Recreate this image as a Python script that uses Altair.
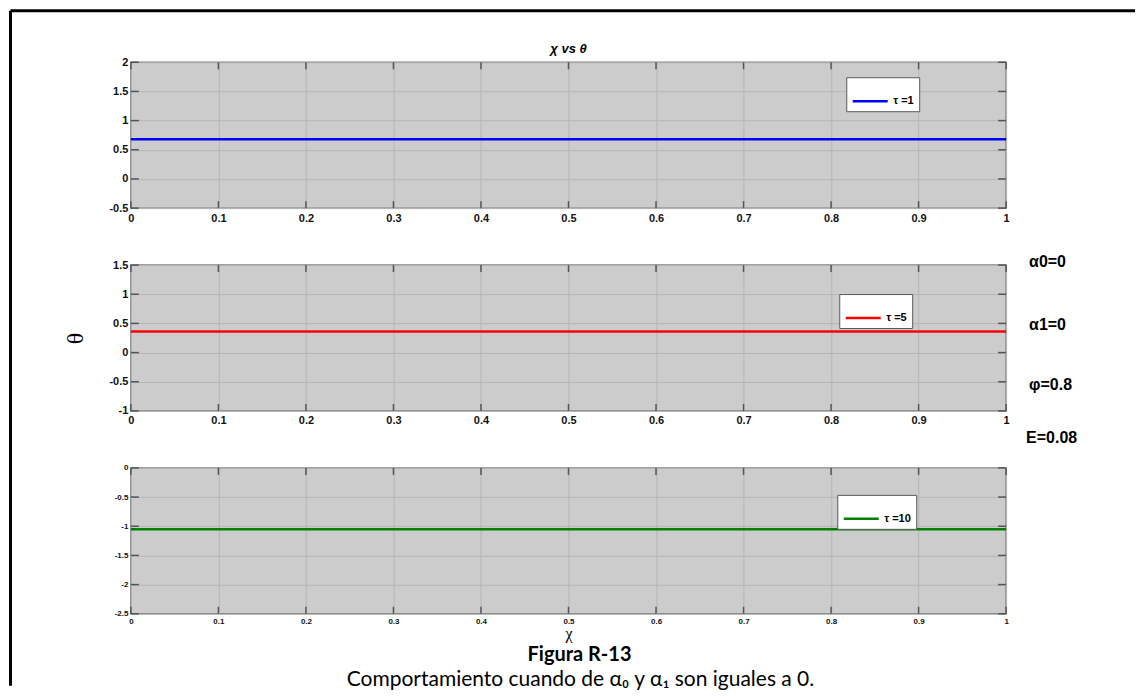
import altair as alt
import pandas as pd

# ---------------- data ----------------
chi = [0.0, 0.1, 0.2, 0.3, 0.4, 0.5, 0.6, 0.7, 0.8, 0.9, 1.0]
theta_tau1 = [0.68, 0.68, 0.68, 0.68, 0.68, 0.68, 0.68, 0.68, 0.68, 0.68, 0.68]
theta_tau5 = [0.36, 0.36, 0.36, 0.36, 0.36, 0.36, 0.36, 0.36, 0.36, 0.36, 0.36]
theta_tau10 = [-1.05, -1.05, -1.05, -1.05, -1.05, -1.05, -1.05, -1.05, -1.05, -1.05, -1.05]

series_labels = ["τ =1", "τ =5", "τ =10"]
series_colors = ["#0000ff", "#ff0000", "#008000"]

x_ticks = [0, 0.1, 0.2, 0.3, 0.4, 0.5, 0.6, 0.7, 0.8, 0.9, 1]
y_ticks_1 = [-0.5, 0, 0.5, 1, 1.5, 2]
y_ticks_2 = [-1, -0.5, 0, 0.5, 1, 1.5]
y_ticks_3 = [-2.5, -2, -1.5, -1, -0.5, 0]

title_text = "χ vs θ"
y_title = "θ"
x_title = "χ"
param_texts = ["α0=0", "α1=0", "φ=0.8", "E=0.08"]
figure_label = "Figura R-13"
caption_text = "Comportamiento cuando de α₀ y α₁ son iguales a 0."

# ---------------- style ----------------
W, H = 876, 146
FONT = "Liberation Sans"
SERIF = "Liberation Serif"
GRID = "#b6b6b6"
TICK = "#555555"


def one_row():
    return pd.DataFrame({"d": [0]})


def panel(theta, label, color, ydom, yticks, fs, legend_xy,
          ytitle=None, xtitle=None, extra=None):
    df = pd.DataFrame({"chi": chi, "theta": theta, "s": [label] * len(chi)})
    xscale = alt.Scale(domain=[0, 1], nice=False, zero=False)
    yscale = alt.Scale(domain=ydom, nice=False, zero=False)

    xaxis_kw = dict(values=x_ticks, labelExpr="datum.value + ''", grid=True,
                    gridColor=GRID, gridWidth=1, domain=False, ticks=False,
                    labelFont=FONT, labelFontWeight="bold", labelFontSize=fs,
                    labelColor="#111111", labelPadding=4, labelFlush=False)
    if xtitle:
        xaxis_kw.update(title=xtitle, titleFont=SERIF, titleFontSize=16,
                        titleFontWeight="normal", titleColor="#000000",
                        titlePadding=0)
    else:
        xaxis_kw.update(title=None)

    yaxis_kw = dict(values=yticks, labelExpr="datum.value + ''", grid=True,
                    gridColor=GRID, gridWidth=1, domain=False, ticks=False,
                    labelFont=FONT, labelFontWeight="bold", labelFontSize=fs,
                    labelColor="#111111", labelPadding=3, labelFlush=False)
    if ytitle:
        yaxis_kw.update(title=ytitle, titleFont=SERIF, titleFontSize=24,
                        titleFontWeight="normal", titleColor="#000000",
                        titleX=-55, titleY=H / 2, titleAngle=270,
                        titleAlign="center", titleBaseline="middle")
    else:
        yaxis_kw.update(title=None)

    def X(field="chi"):
        return alt.X(f"{field}:Q", scale=xscale, axis=alt.Axis(**xaxis_kw))

    def Y(field="theta"):
        return alt.Y(f"{field}:Q", scale=yscale, axis=alt.Axis(**yaxis_kw))

    line = alt.Chart(df).mark_line(strokeWidth=2.5).encode(
        x=X(), y=Y(),
        color=alt.Color("s:N", scale=alt.Scale(domain=[label], range=[color]),
                        legend=alt.Legend(title=None, orient="none",
                                          legendX=legend_xy[0], legendY=legend_xy[1],
                                          fillColor="white", strokeColor="#595959",
                                          padding=5, symbolType="stroke",
                                          symbolSize=1225, symbolStrokeWidth=2.5,
                                          labelFont=FONT, labelFontWeight="bold",
                                          labelFontSize=11, labelColor="#000000",
                                          labelOffset=4)),
    )

    xt = pd.DataFrame({"chi": x_ticks})
    yt = pd.DataFrame({"theta": yticks})
    tick_top = alt.Chart(xt).mark_rule(color=TICK, strokeWidth=1.5).encode(
        x=X(), y=alt.value(0), y2=alt.value(7))
    tick_bot = alt.Chart(xt).mark_rule(color=TICK, strokeWidth=1.5).encode(
        x=X(), y=alt.value(H - 7), y2=alt.value(H))
    tick_left = alt.Chart(yt).mark_rule(color=TICK, strokeWidth=1.5).encode(
        y=Y(), x=alt.value(0), x2=alt.value(8))
    tick_right = alt.Chart(yt).mark_rule(color=TICK, strokeWidth=1.5).encode(
        y=Y(), x=alt.value(W - 8), x2=alt.value(W))

    layers = [line, tick_top, tick_bot, tick_left, tick_right]
    if extra:
        layers += extra
    return alt.layer(*layers).properties(width=W, height=H)


# ---- panel 1 extras: figure frame + title ----
frame_top = alt.Chart(one_row()).mark_rule(color="#000000", strokeWidth=3).encode(
    x=alt.value(-120.5), x2=alt.value(1005), y=alt.value(-51.5))
frame_left = alt.Chart(one_row()).mark_rule(color="#000000", strokeWidth=3).encode(
    x=alt.value(-120.5), y=alt.value(-51.5), y2=alt.value(624))
title_mark = alt.Chart(one_row()).mark_text(
    font=FONT, fontSize=13, fontWeight="bold", fontStyle="italic",
    color="#000000", align="center", baseline="middle").encode(
    x=alt.value(W / 2), y=alt.value(-13), text=alt.value(title_text))

# ---- panel 2 extras: parameter annotations ----
param_y = [-3, 60, 120, 173]
param_x = [899, 899, 899, 896]
param_marks = [
    alt.Chart(one_row()).mark_text(
        font=FONT, fontSize=16, fontWeight="bold", color="#000000",
        align="left", baseline="middle").encode(
        x=alt.value(px), y=alt.value(py), text=alt.value(t))
    for t, px, py in zip(param_texts, param_x, param_y)
]

# ---- panel 3 extras: caption ----
fig_mark = alt.Chart(one_row()).mark_text(
    font="Lato", fontSize=20, fontWeight="bold", color="#000000",
    align="center", baseline="alphabetic").encode(
    x=alt.value(449), y=alt.value(193), text=alt.value(figure_label))
cap_mark = alt.Chart(one_row()).mark_text(
    font="Lato", fontSize=21, color="#000000",
    align="center", baseline="alphabetic").encode(
    x=alt.value(450), y=alt.value(218), text=alt.value(caption_text))

p1 = panel(theta_tau1, series_labels[0], series_colors[0], [-0.5, 2], y_ticks_1, 11,
           (716, 15), extra=[frame_top, frame_left, title_mark])
p2 = panel(theta_tau5, series_labels[1], series_colors[1], [-1, 1.5], y_ticks_2, 11,
           (709, 29), ytitle=y_title, extra=param_marks)
p3 = panel(theta_tau10, series_labels[2], series_colors[2], [-2.5, 0], y_ticks_3, 8,
           (707, 27), xtitle=x_title, extra=[fig_mark, cap_mark])

chart = alt.vconcat(p1, p2, p3, spacing=57, bounds="flush").resolve_scale(
    color="independent", y="independent"
).configure_view(
    fill="#cccccc", stroke="#808080", strokeWidth=1.5
).properties(padding=0)

chart.save("out.html", embed_options={"renderer": "svg", "actions": False})
